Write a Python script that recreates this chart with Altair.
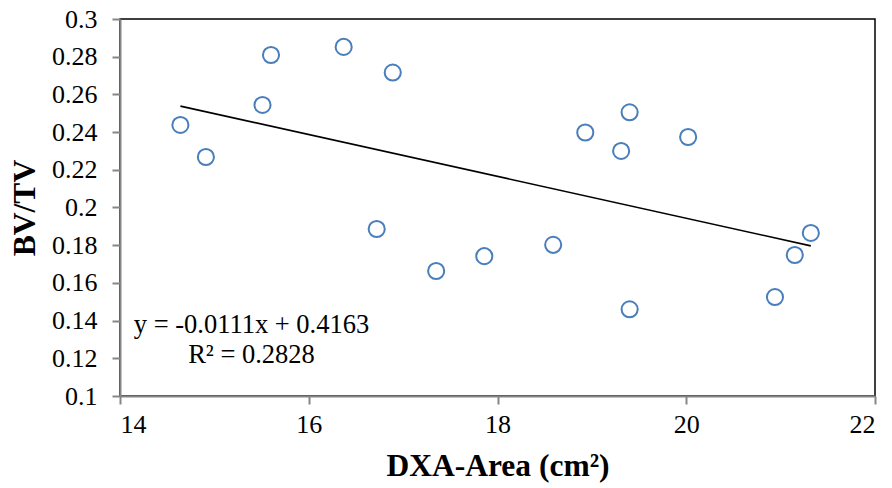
import altair as alt
import pandas as pd

dxa_area = [14.64, 14.91, 15.51, 15.60, 16.37, 16.89, 16.72, 17.35, 17.86,
            18.59, 18.93, 19.31, 19.40, 19.40, 20.02, 20.94, 21.15, 21.32]
bv_tv = [0.2438, 0.2268, 0.2544, 0.2809, 0.2852, 0.2716, 0.1886, 0.1663, 0.1742,
         0.1802, 0.2398, 0.2300, 0.2505, 0.1460, 0.2374, 0.1525, 0.1748, 0.1865]

slope = -0.0111
intercept = 0.4163
equation_lines = ["y = -0.0111x + 0.4163", "R\u00b2 = 0.2828"]

pts = pd.DataFrame({"x": dxa_area, "y": bv_tv})
x_lo, x_hi = min(dxa_area), max(dxa_area)
trend = pd.DataFrame({"x": [x_lo, x_hi],
                      "y": [slope * x_lo + intercept, slope * x_hi + intercept]})

FONT = "Liberation Serif"

xs = alt.Scale(domain=[14, 22], nice=False, zero=False)
ys = alt.Scale(domain=[0.1, 0.3], nice=False, zero=False)

x_axis = alt.Axis(
    title="DXA-Area (cm\u00b2)", values=[14, 16, 18, 20, 22], format="d",
    titleX=377.5, titleY=70, titleAlign="center", titleBaseline="middle",
    labelPadding=7,
)
y_axis = alt.Axis(
    title="BV/TV", values=[0.1, 0.12, 0.14, 0.16, 0.18, 0.2, 0.22, 0.24, 0.26, 0.28, 0.3],
    labelExpr="format(datum.value, '.2~f')",
    titleX=-95, titleY=188.5, titleAngle=-90, titleAlign="center", titleBaseline="middle",
    labelPadding=15,
)

points = alt.Chart(pts).mark_point(
    shape="circle", filled=False, size=260, stroke="#4a7ebb", strokeWidth=2, opacity=1
).encode(x=alt.X("x:Q", scale=xs, axis=x_axis), y=alt.Y("y:Q", scale=ys, axis=y_axis))

line = alt.Chart(trend).mark_line(color="#000", strokeWidth=1.6).encode(
    x=alt.X("x:Q", scale=xs, axis=x_axis), y=alt.Y("y:Q", scale=ys, axis=y_axis))

texts = []
for t, ypx in zip(equation_lines, [306, 336]):
    texts.append(
        alt.Chart(pd.DataFrame({"t": [t]})).mark_text(
            font=FONT, fontSize=26.5, color="#000", align="center", baseline="middle"
        ).encode(text="t:N", x=alt.value(131.5), y=alt.value(ypx))
    )

chart = alt.layer(points, line, *texts).properties(
    width=755, height=377, background="white",
    autosize=alt.AutoSizeParams(type="none"),
    padding={"left": 120, "top": 19, "right": 17, "bottom": 92},
).configure_view(stroke="#000", strokeWidth=1.5).configure_axis(
    grid=False,
    domainColor="#868686", domainWidth=2, tickColor="#868686", tickWidth=2, tickSize=8,
    labelFont=FONT, labelFontSize=26, labelColor="#000",
    titleFont=FONT, titleFontSize=31.5, titleFontWeight="bold", titleColor="#000",
)

chart.save("out.html", embed_options={"renderer": "svg", "actions": False})
